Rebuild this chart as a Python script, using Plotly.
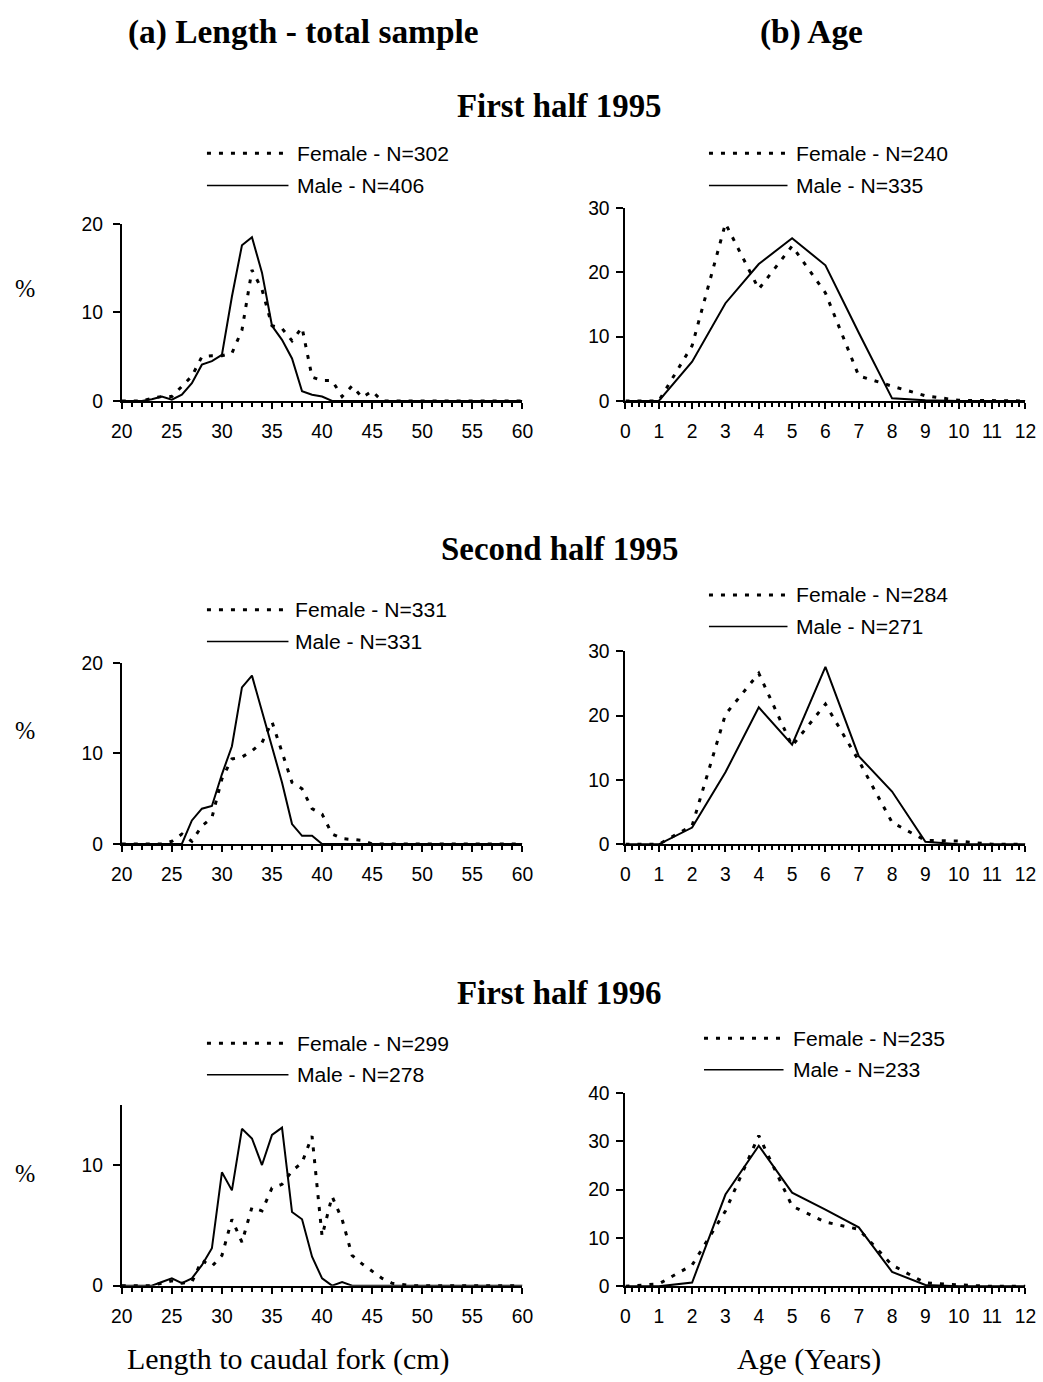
import plotly.graph_objects as go

# ---- data -------------------------------------------------------------
length_cm = list(range(20, 61))
age_years = list(range(0, 13))

def pad_len(start_vals):
    """Values given from 20 cm upward; remaining classes up to 60 cm are zero."""
    return start_vals + [0] * (len(length_cm) - len(start_vals))

# First half 1995
len_female_95a = pad_len([0, 0, 0, 0.3, 0.5, 0.5, 1.6, 2.8, 5.0, 5.1, 5.1, 5.4, 8.0, 14.8,
                          12.6, 8.5, 8.2, 6.8, 8.3, 2.7, 2.3, 2.3, 0.5, 1.7, 0.4, 1.1, 0])
len_male_95a = pad_len([0, 0, 0, 0.2, 0.5, 0.15, 0.7, 2.0, 4.1, 4.5, 5.2, 11.8, 17.6, 18.5,
                        14.5, 8.5, 6.9, 4.8, 1.1, 0.7, 0.5, 0])
age_female_95a = [0, 0, 8.6, 27.6, 17.4, 24.1, 16.8, 3.9, 2.3, 0.8, 0.1, 0, 0]
age_male_95a = [0, 0, 6.1, 15.2, 21.3, 25.3, 21.1, 10.6, 0.4, 0.1, 0, 0, 0]

# Second half 1995
len_female_95b = pad_len([0, 0, 0, 0, 0, 0.3, 1.1, 0.3, 2.0, 2.9, 7.2, 9.4, 9.6, 10.3,
                          11.2, 13.5, 10.1, 6.8, 6.1, 3.9, 3.3, 1.1, 0.6, 0.5, 0.4, 0])
len_male_95b = pad_len([0, 0, 0, 0, 0, 0, 0, 2.6, 3.9, 4.2, 7.7, 10.8, 17.3, 18.6,
                        14.7, 10.8, 6.8, 2.2, 0.9, 0.9, 0])
age_female_95b = [0, 0, 2.9, 20.2, 26.6, 15.3, 21.8, 13.0, 3.4, 0.6, 0.5, 0, 0]
age_male_95b = [0, 0, 2.6, 11.2, 21.3, 15.5, 27.6, 13.7, 8.2, 0.4, 0, 0, 0]

# First half 1996
len_female_96a = pad_len([0, 0, 0, 0, 0.2, 0.4, 0.2, 0.3, 2.1, 1.6, 2.5, 5.5, 3.6, 6.5,
                          6.2, 8.1, 8.4, 9.5, 10.2, 12.4, 4.1, 7.4, 5.5, 2.5, 1.8, 1.2,
                          0.6, 0.2, 0.1, 0])
len_male_96a = pad_len([0, 0, 0, 0, 0.3, 0.6, 0.2, 0.6, 1.7, 3.1, 9.4, 7.9, 13.0, 12.2,
                        10.0, 12.5, 13.1, 6.1, 5.5, 2.4, 0.6, 0, 0.3, 0])
age_female_96a = [0, 0.5, 4.4, 15.6, 31.2, 16.6, 13.3, 11.8, 4.4, 0.7, 0.3, 0, 0]
age_male_96a = [0, 0, 0.8, 19.0, 29.1, 19.4, 15.9, 12.2, 3.0, 0.3, 0, 0, 0]

period_titles = ["First half 1995", "Second half 1995", "First half 1996"]
n_female_len = [302, 331, 299]
n_male_len = [406, 331, 278]
n_female_age = [240, 284, 235]
n_male_age = [335, 271, 233]

# ---- geometry ---------------------------------------------------------
# Layout positions are given in page pixels of the finished sheet; the page
# has an 8px body margin and is shown slightly reduced, so convert here.
BODY = 8
SX, SY = 1043 / 1059, 1382 / 1398
FW, FH = 1051, 1390
K = 1 / SX                                  # font compensation

fx = lambda px: (px / SX - BODY) / FW
fy = lambda py: 1 - (py / SY - BODY) / FH

SANS = "Liberation Sans"
SERIF = "Liberation Serif"

panels = [
    dict(kind="len", f=len_female_95a, m=len_male_95a, nf=n_female_len[0], nm=n_male_len[0],
         xp=(119.3, 522.3), yp=(222.7, 400.3), yr=(0, 20), dt=10, so=6,
         leg=dict(x0=205, x1=287, tx=294, yf=151.7, ym=184.0)),
    dict(kind="age", f=age_female_95a, m=age_male_95a, nf=n_female_age[0], nm=n_male_age[0],
         xp=(626.0, 1028.3), yp=(206.7, 400.3), yr=(0, 30), dt=10, so=3,
         leg=dict(x0=710, x1=789, tx=796, yf=151.7, ym=184.0)),
    dict(kind="len", f=len_female_95b, m=len_male_95b, nf=n_female_len[1], nm=n_male_len[1],
         xp=(119.3, 522.3), yp=(663.3, 845.0), yr=(0, 20), dt=10, so=6,
         leg=dict(x0=205, x1=287, tx=292, yf=610.0, ym=641.7)),
    dict(kind="age", f=age_female_95b, m=age_male_95b, nf=n_female_age[1], nm=n_male_age[1],
         xp=(626.0, 1028.3), yp=(651.7, 845.3), yr=(0, 30), dt=10, so=3,
         leg=dict(x0=710, x1=789, tx=796, yf=595.0, ym=626.7)),
    dict(kind="len", f=len_female_96a, m=len_male_96a, nf=n_female_len[2], nm=n_male_len[2],
         xp=(119.3, 522.3), yp=(1106.7, 1288.3), yr=(0, 15), dt=10, so=6,
         leg=dict(x0=205, x1=287, tx=294, yf=1045.0, ym=1076.7)),
    dict(kind="age", f=age_female_96a, m=age_male_96a, nf=n_female_age[2], nm=n_male_age[2],
         xp=(626.0, 1028.3), yp=(1095.0, 1289.0), yr=(0, 40), dt=10, so=3,
         leg=dict(x0=705, x1=785, tx=793, yf=1040.0, ym=1071.7)),
]

DOT = "4px,8px"
fig = go.Figure()
shapes, annotations = [], []
layout_axes = {}
tick_font = dict(family=SANS, size=19 * K, color="black")
n_panels = len(panels)

for i, p in enumerate(panels, start=1):
    xs = length_cm if p["kind"] == "len" else age_years
    xa = "x" if i == 1 else f"x{i}"
    ya = "y" if i == 1 else f"y{i}"
    fig.add_trace(go.Scatter(x=xs, y=p["f"], mode="lines", name=f"Female - N={p['nf']}",
                             xaxis=xa, yaxis=ya, showlegend=False,
                             line=dict(color="black", width=3, dash=DOT)))
    fig.add_trace(go.Scatter(x=xs, y=p["m"], mode="lines", name=f"Male - N={p['nm']}",
                             xaxis=xa, yaxis=ya, showlegend=False,
                             line=dict(color="black", width=2)))

    if p["kind"] == "len":
        xr, xdt, xminor = (20, 60), 5, 1
    else:
        xr, xdt, xminor = (0, 12), 1, 0.2

    xkey = "xaxis" if i == 1 else f"xaxis{i}"
    ykey = "yaxis" if i == 1 else f"yaxis{i}"
    layout_axes[xkey] = dict(
        domain=[fx(p["xp"][0]), fx(p["xp"][1])], range=list(xr), anchor=ya,
        tickmode="linear", tick0=xr[0], dtick=xdt, ticks="outside", ticklen=6,
        tickwidth=2, tickcolor="black", showline=True, linecolor="black", linewidth=2,
        showgrid=False, zeroline=False, ticklabelstandoff=6, tickfont=tick_font,
        minor=dict(dtick=xminor, ticks="outside", ticklen=4, tickwidth=1.5,
                   tickcolor="black", showgrid=False),
    )
    layout_axes[ykey] = dict(
        domain=[fy(p["yp"][1]), fy(p["yp"][0])], range=list(p["yr"]), anchor=xa,
        tickmode="linear", tick0=0, dtick=p["dt"], ticks="outside", ticklen=7,
        tickwidth=2, tickcolor="black", showline=True, linecolor="black", linewidth=2,
        showgrid=False, zeroline=False, ticklabelstandoff=p["so"], tickfont=tick_font,
    )

    # companion axes: inner half of the major ticks, so they cross the axis line
    j = i + n_panels
    layout_axes[f"xaxis{j}"] = dict(
        overlaying=xa, anchor=ya, side="bottom", range=list(xr),
        tickmode="linear", tick0=xr[0], dtick=xdt, ticks="inside", ticklen=5,
        tickwidth=2, tickcolor="black", showticklabels=False, showline=False,
        showgrid=False, zeroline=False,
    )
    layout_axes[f"yaxis{j}"] = dict(
        overlaying=ya, anchor=xa, side="left", range=list(p["yr"]),
        tickmode="linear", tick0=0, dtick=p["dt"], ticks="inside", ticklen=5,
        tickwidth=2, tickcolor="black", showticklabels=False, showline=False,
        showgrid=False, zeroline=False,
    )

    # legend samples and texts
    lg = p["leg"]
    shapes.append(dict(type="line", xref="paper", yref="paper",
                       x0=fx(lg["x0"]), x1=fx(lg["x1"]), y0=fy(lg["yf"]), y1=fy(lg["yf"]),
                       line=dict(color="black", width=3, dash=DOT)))
    shapes.append(dict(type="line", xref="paper", yref="paper",
                       x0=fx(lg["x0"]), x1=fx(lg["x1"]), y0=fy(lg["ym"]), y1=fy(lg["ym"]),
                       line=dict(color="black", width=1.5)))
    for txt, yy in ((f"Female - N={p['nf']}", lg["yf"]), (f"Male - N={p['nm']}", lg["ym"])):
        annotations.append(dict(text=txt, xref="paper", yref="paper", x=fx(lg["tx"]), y=fy(yy),
                                xanchor="left", yanchor="middle", showarrow=False,
                                font=dict(family=SANS, size=20.8 * K, color="black")))

# column headings
for txt, xc in (("(a) Length - total sample", 302), ("(b) Age", 813)):
    annotations.append(dict(text=f"<b>{txt}</b>", xref="paper", yref="paper", x=fx(xc), y=fy(30),
                            xanchor="center", yanchor="middle", showarrow=False,
                            font=dict(family=SERIF, size=32.9 * K, color="black")))

# period headings
for txt, yc in zip(period_titles, (104, 549, 995)):
    annotations.append(dict(text=f"<b>{txt}</b>", xref="paper", yref="paper", x=fx(560), y=fy(yc),
                            xanchor="center", yanchor="middle", showarrow=False,
                            font=dict(family=SERIF, size=32.4 * K, color="black")))

# percent labels
for yc in (287, 731, 1176):
    annotations.append(dict(text="%", xref="paper", yref="paper", x=fx(22), y=fy(yc),
                            xanchor="center", yanchor="middle", showarrow=False,
                            font=dict(family=SERIF, size=24 * K, color="black")))

# axis titles
for txt, xc in (("Length to caudal fork (cm)", 287), ("Age (Years)", 811)):
    annotations.append(dict(text=txt, xref="paper", yref="paper", x=fx(xc), y=fy(1362),
                            xanchor="center", yanchor="middle", showarrow=False,
                            font=dict(family=SERIF, size=29.5 * K, color="black")))

fig.update_layout(
    width=FW, height=FH, margin=dict(l=0, r=0, t=0, b=0),
    paper_bgcolor="white", plot_bgcolor="white", showlegend=False,
    shapes=shapes, annotations=annotations, **layout_axes,
)

fig.write_html("out.html")
